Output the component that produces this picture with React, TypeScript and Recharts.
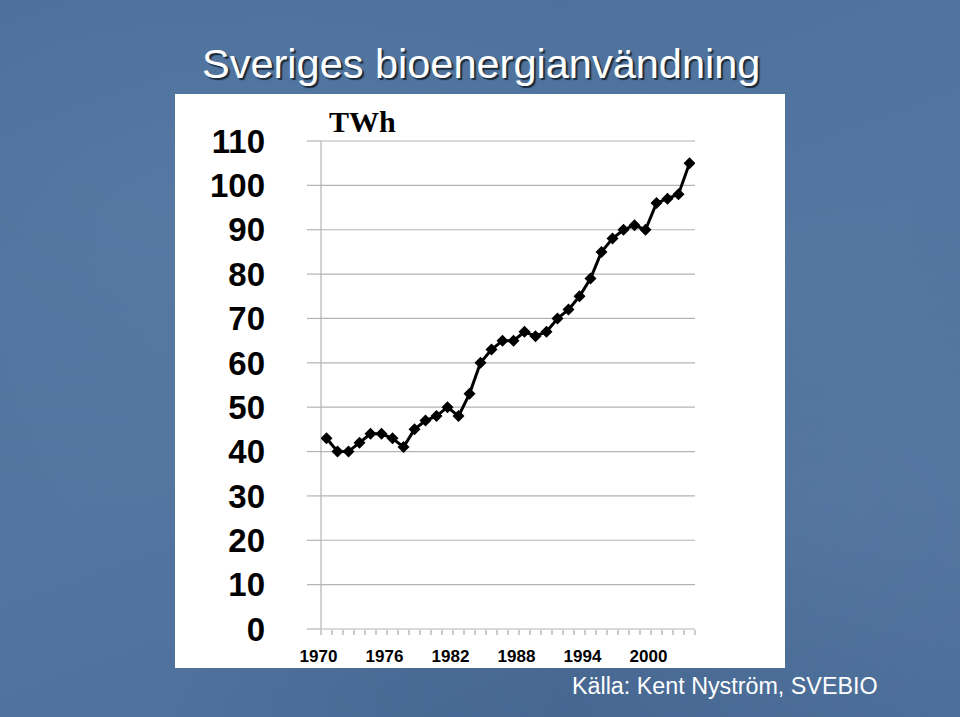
import React from 'react';
import { LineChart, Line, XAxis, YAxis, CartesianGrid } from 'recharts';

// Sveriges bioenergianvändning, TWh per år
const years = [
  1970, 1971, 1972, 1973, 1974, 1975, 1976, 1977, 1978, 1979,
  1980, 1981, 1982, 1983, 1984, 1985, 1986, 1987, 1988, 1989,
  1990, 1991, 1992, 1993, 1994, 1995, 1996, 1997, 1998, 1999,
  2000, 2001, 2002, 2003,
];
const twh = [
  43, 40, 40, 42, 44, 44, 43, 41, 45, 47,
  48, 50, 48, 53, 60, 63, 65, 65, 67, 66,
  67, 70, 72, 75, 79, 85, 88, 90, 91, 90,
  96, 97, 98, 105,
];
const yTicks = [0, 10, 20, 30, 40, 50, 60, 70, 80, 90, 100, 110];
const yearLabels = [1970, 1976, 1982, 1988, 1994, 2000];
// tick marks sit between the years (Excel style)
const yearBoundaries = [...years.map((y) => y - 0.5), years[years.length - 1] + 0.5];

const data = years.map((year, i) => ({ year, twh: twh[i] }));

const Diamond = (props: any) => {
  const { cx, cy } = props;
  if (cx == null || cy == null) return null;
  const r = 6;
  return (
    <polygon
      points={`${cx},${cy - r} ${cx + r},${cy} ${cx},${cy + r} ${cx - r},${cy}`}
      fill="#000"
    />
  );
};

const bg =
  'radial-gradient(ellipse at 20% 30%, rgba(110,140,180,0.25), transparent 45%),' +
  'radial-gradient(ellipse at 85% 70%, rgba(110,140,180,0.25), transparent 45%),' +
  'radial-gradient(ellipse at 60% 95%, rgba(40,70,110,0.25), transparent 50%),' +
  'linear-gradient(160deg, #4b6f9b 0%, #52769f 50%, #4a6d98 100%)';

export default function App() {
  return (
    <div
      style={{
        position: 'absolute', left: 0, top: 0, width: 960, height: 717,
        background: bg, overflow: 'hidden', fontFamily: 'Liberation Sans, Arial, sans-serif',
      }}
    >
      <div
        style={{
          position: 'absolute', left: 202, top: 40, fontSize: 41.5, color: '#fff',
          textShadow: '2px 2px 1px #1a2a3a', whiteSpace: 'nowrap', lineHeight: '48px',
        }}
      >
        Sveriges bioenergianvändning
      </div>
      <div style={{ position: 'absolute', left: 175, top: 94, width: 610, height: 574, background: '#fff' }} />
      <div
        style={{
          position: 'absolute', left: 329, top: 104, fontSize: 30, fontWeight: 'bold',
          fontFamily: 'Liberation Serif, Times New Roman, serif', color: '#000', lineHeight: '36px',
        }}
      >
        TWh
      </div>
      <div style={{ position: 'absolute', left: 0, top: 0 }}>
        <LineChart
          width={960}
          height={717}
          data={data}
          margin={{ top: 141, right: 265, bottom: 81, left: 0 }}
        >
          <CartesianGrid vertical={false} stroke="#b4b4b4" strokeWidth={1.2} />
          <XAxis
            xAxisId="labels"
            dataKey="year"
            type="number"
            domain={[1969.5, 2003.5]}
            ticks={yearLabels}
            interval={0}
            axisLine={false}
            tickLine={false}
            tickSize={0}
            tickMargin={21}
            height={1}
            tick={{ fill: '#000', fontSize: 17, fontWeight: 'bold', fontFamily: 'Liberation Sans, Arial, sans-serif', dx: -8 }}
          />
          <XAxis
            xAxisId="marks"
            dataKey="year"
            type="number"
            domain={[1969.5, 2003.5]}
            ticks={yearBoundaries}
            interval={0}
            tick={{ fill: 'transparent', fontSize: 1 }}
            tickLine={{ stroke: '#999' }}
            tickSize={5}
            axisLine={false}
            height={6}
            allowDataOverflow
          />
          <YAxis
            domain={[0, 110]}
            ticks={yTicks}
            interval={0}
            width={321}
            tickSize={14}
            tickMargin={42}
            tickLine={{ stroke: '#b4b4b4', strokeWidth: 1.2 }}
            axisLine={{ stroke: '#b4b4b4', strokeWidth: 1.2 }}
            tick={{ fill: '#000', fontSize: 33, fontWeight: 'bold', fontFamily: 'Liberation Sans, Arial, sans-serif' }}
          />
          <Line
            xAxisId="marks"
            type="linear"
            dataKey="twh"
            stroke="#000"
            strokeWidth={3}
            dot={<Diamond />}
            isAnimationActive={false}
          />
        </LineChart>
      </div>
      <div
        style={{
          position: 'absolute', left: 572, top: 672, fontSize: 23.3, color: '#fff',
          whiteSpace: 'nowrap', lineHeight: '28px',
        }}
      >
        Källa: Kent Nyström, SVEBIO
      </div>
    </div>
  );
}
